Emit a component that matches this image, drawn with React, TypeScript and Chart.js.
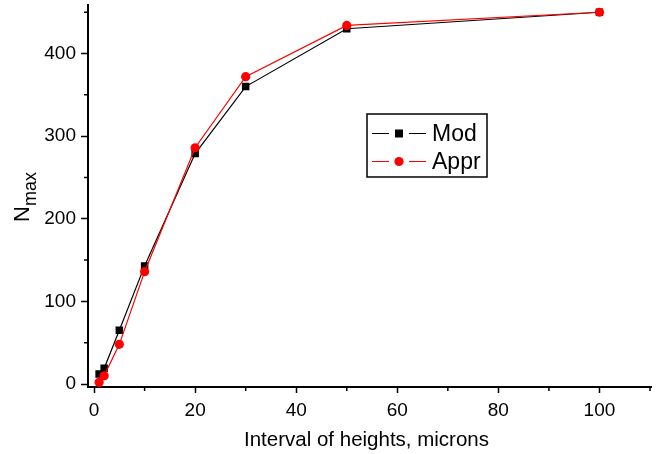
import React, { useEffect, useRef } from "react";
import { Chart, registerables } from "chart.js";

Chart.register(...registerables);

// Interval of heights (microns) and the two curves of N_max
const intervals = [1, 2, 5, 10, 20, 30, 50, 100];
const modValues = [12, 19, 65, 143, 279, 360, 430, 450];
const apprValues = [2, 10, 48, 136, 286, 372, 434, 450];

const xTickValues = [0, 20, 40, 60, 80, 100];
const xMinorValues = [10, 30, 50, 70, 90, 110];
const yTickValues = [0, 100, 200, 300, 400];
const yMinorValues = [50, 150, 250, 350, 450];

const seriesNames = ["Mod", "Appr"];
const xTitle = "Interval of heights, microns";

const FONT = "'Liberation Sans', Arial, sans-serif";

const decorPlugin = {
  id: "decor",
  afterDraw(chart: any) {
    const ctx = chart.ctx as CanvasRenderingContext2D;
    const xs = chart.scales.x;
    const ys = chart.scales.y;
    const area = chart.chartArea;
    ctx.save();
    ctx.strokeStyle = "#000";
    ctx.lineWidth = 1.5;
    // minor ticks
    ctx.beginPath();
    for (const v of xMinorValues) {
      const px = xs.getPixelForValue(v);
      if (px > area.right + 1) continue;
      ctx.moveTo(px, area.bottom);
      ctx.lineTo(px, area.bottom + 4);
    }
    for (const v of yMinorValues) {
      const py = ys.getPixelForValue(v);
      if (py < area.top - 1) continue;
      ctx.moveTo(area.left, py);
      ctx.lineTo(area.left - 4, py);
    }
    ctx.stroke();

    // x axis title
    ctx.fillStyle = "#000";
    ctx.font = `20.5px ${FONT}`;
    ctx.textAlign = "center";
    ctx.textBaseline = "alphabetic";
    ctx.fillText(xTitle, (area.left + area.right) / 2 - 3, 446);

    // y axis title: N with subscript "max"
    ctx.save();
    ctx.translate(29, 197);
    ctx.rotate(-Math.PI / 2);
    ctx.textAlign = "left";
    ctx.font = `22px ${FONT}`;
    const nW = ctx.measureText("N").width;
    ctx.font = `18px ${FONT}`;
    const mW = ctx.measureText("max").width;
    const start = -(nW + mW) / 2;
    ctx.font = `22px ${FONT}`;
    ctx.fillText("N", start, 0);
    ctx.font = `18px ${FONT}`;
    ctx.fillText("max", start + nW, 7);
    ctx.restore();

    // legend
    const bx = 367, by = 114, bw = 120, bh = 63;
    ctx.lineWidth = 1.5;
    ctx.strokeStyle = "#000";
    ctx.strokeRect(bx, by, bw, bh);
    const rows = [133.5, 161.5];
    chart.data.datasets.forEach((ds: any) => {
      const y = rows[ds.legendRow];
      ctx.strokeStyle = ds.borderColor;
      ctx.lineWidth = 1.2;
      ctx.beginPath();
      ctx.moveTo(372, y);
      ctx.lineTo(389, y);
      ctx.moveTo(409, y);
      ctx.lineTo(426, y);
      ctx.stroke();
      ctx.fillStyle = ds.backgroundColor;
      if (ds.pointStyle === "rect") {
        ctx.fillRect(395, y - 4, 8, 8);
      } else {
        ctx.beginPath();
        ctx.arc(399, y, 4.6, 0, Math.PI * 2);
        ctx.fill();
      }
      ctx.fillStyle = "#000";
      ctx.font = `23px ${FONT}`;
      ctx.textAlign = "left";
      ctx.textBaseline = "middle";
      ctx.fillText(ds.label, 432, y + 1);
    });
    ctx.restore();
  },
};

const zeroPadding = (s: any) => {
  s.paddingTop = 0;
  s.paddingBottom = 0;
  s.paddingLeft = 0;
  s.paddingRight = 0;
};

export default function App() {
  const canvasRef = useRef<HTMLCanvasElement>(null);

  useEffect(() => {
    const canvas = canvasRef.current;
    if (!canvas) return;
    const toPoints = (vals: number[]) => intervals.map((x, i) => ({ x, y: vals[i] }));
    const chart = new Chart(canvas, {
      type: "line",
      data: {
        datasets: [
          {
            label: seriesNames[0],
            data: toPoints(modValues),
            borderColor: "#000000",
            backgroundColor: "#000000",
            borderWidth: 1.2,
            pointStyle: "rect",
            pointRadius: 5.3,
            pointBorderWidth: 0,
            order: 2,
            legendRow: 0,
          } as any,
          {
            label: seriesNames[1],
            data: toPoints(apprValues),
            borderColor: "#ff0000",
            backgroundColor: "#ff0000",
            borderWidth: 1.2,
            pointStyle: "circle",
            pointRadius: 4.6,
            pointBorderWidth: 0,
            order: 1,
            legendRow: 1,
          } as any,
        ],
      },
      options: {
        responsive: false,
        animation: false,
        layout: { padding: { top: 5, right: 11, left: 0, bottom: 0 } },
        plugins: { legend: { display: false }, tooltip: { enabled: false } },
        scales: {
          x: {
            type: "linear",
            min: -1.2,
            max: 110.2,
            afterBuildTicks: (s: any) => {
              s.ticks = xTickValues.map((v) => ({ value: v }));
            },
            afterFit: (s: any) => {
              s.height = 67;
              zeroPadding(s);
            },
            grid: { drawOnChartArea: false, drawTicks: true, tickLength: 6, tickWidth: 1.5, tickColor: "#000" },
            border: { display: true, color: "#000", width: 2 },
            ticks: { color: "#000", font: { family: FONT, size: 19 }, padding: 6, maxRotation: 0 },
          },
          y: {
            type: "linear",
            min: -3.6,
            max: 458.4,
            afterBuildTicks: (s: any) => {
              s.ticks = yTickValues.map((v) => ({ value: v }));
            },
            afterFit: (s: any) => {
              s.width = 88;
              zeroPadding(s);
            },
            grid: { drawOnChartArea: false, drawTicks: true, tickLength: 7, tickWidth: 1.5, tickColor: "#000" },
            border: { display: true, color: "#000", width: 2 },
            ticks: { color: "#000", font: { family: FONT, size: 19 }, padding: 5 },
          },
        },
      },
      plugins: [decorPlugin],
    });
    return () => chart.destroy();
  }, []);

  return (
    <div style={{ position: "absolute", left: 0, top: 0, width: 662, height: 454, background: "#fff" }}>
      <canvas ref={canvasRef} width={662} height={454} />
    </div>
  );
}
